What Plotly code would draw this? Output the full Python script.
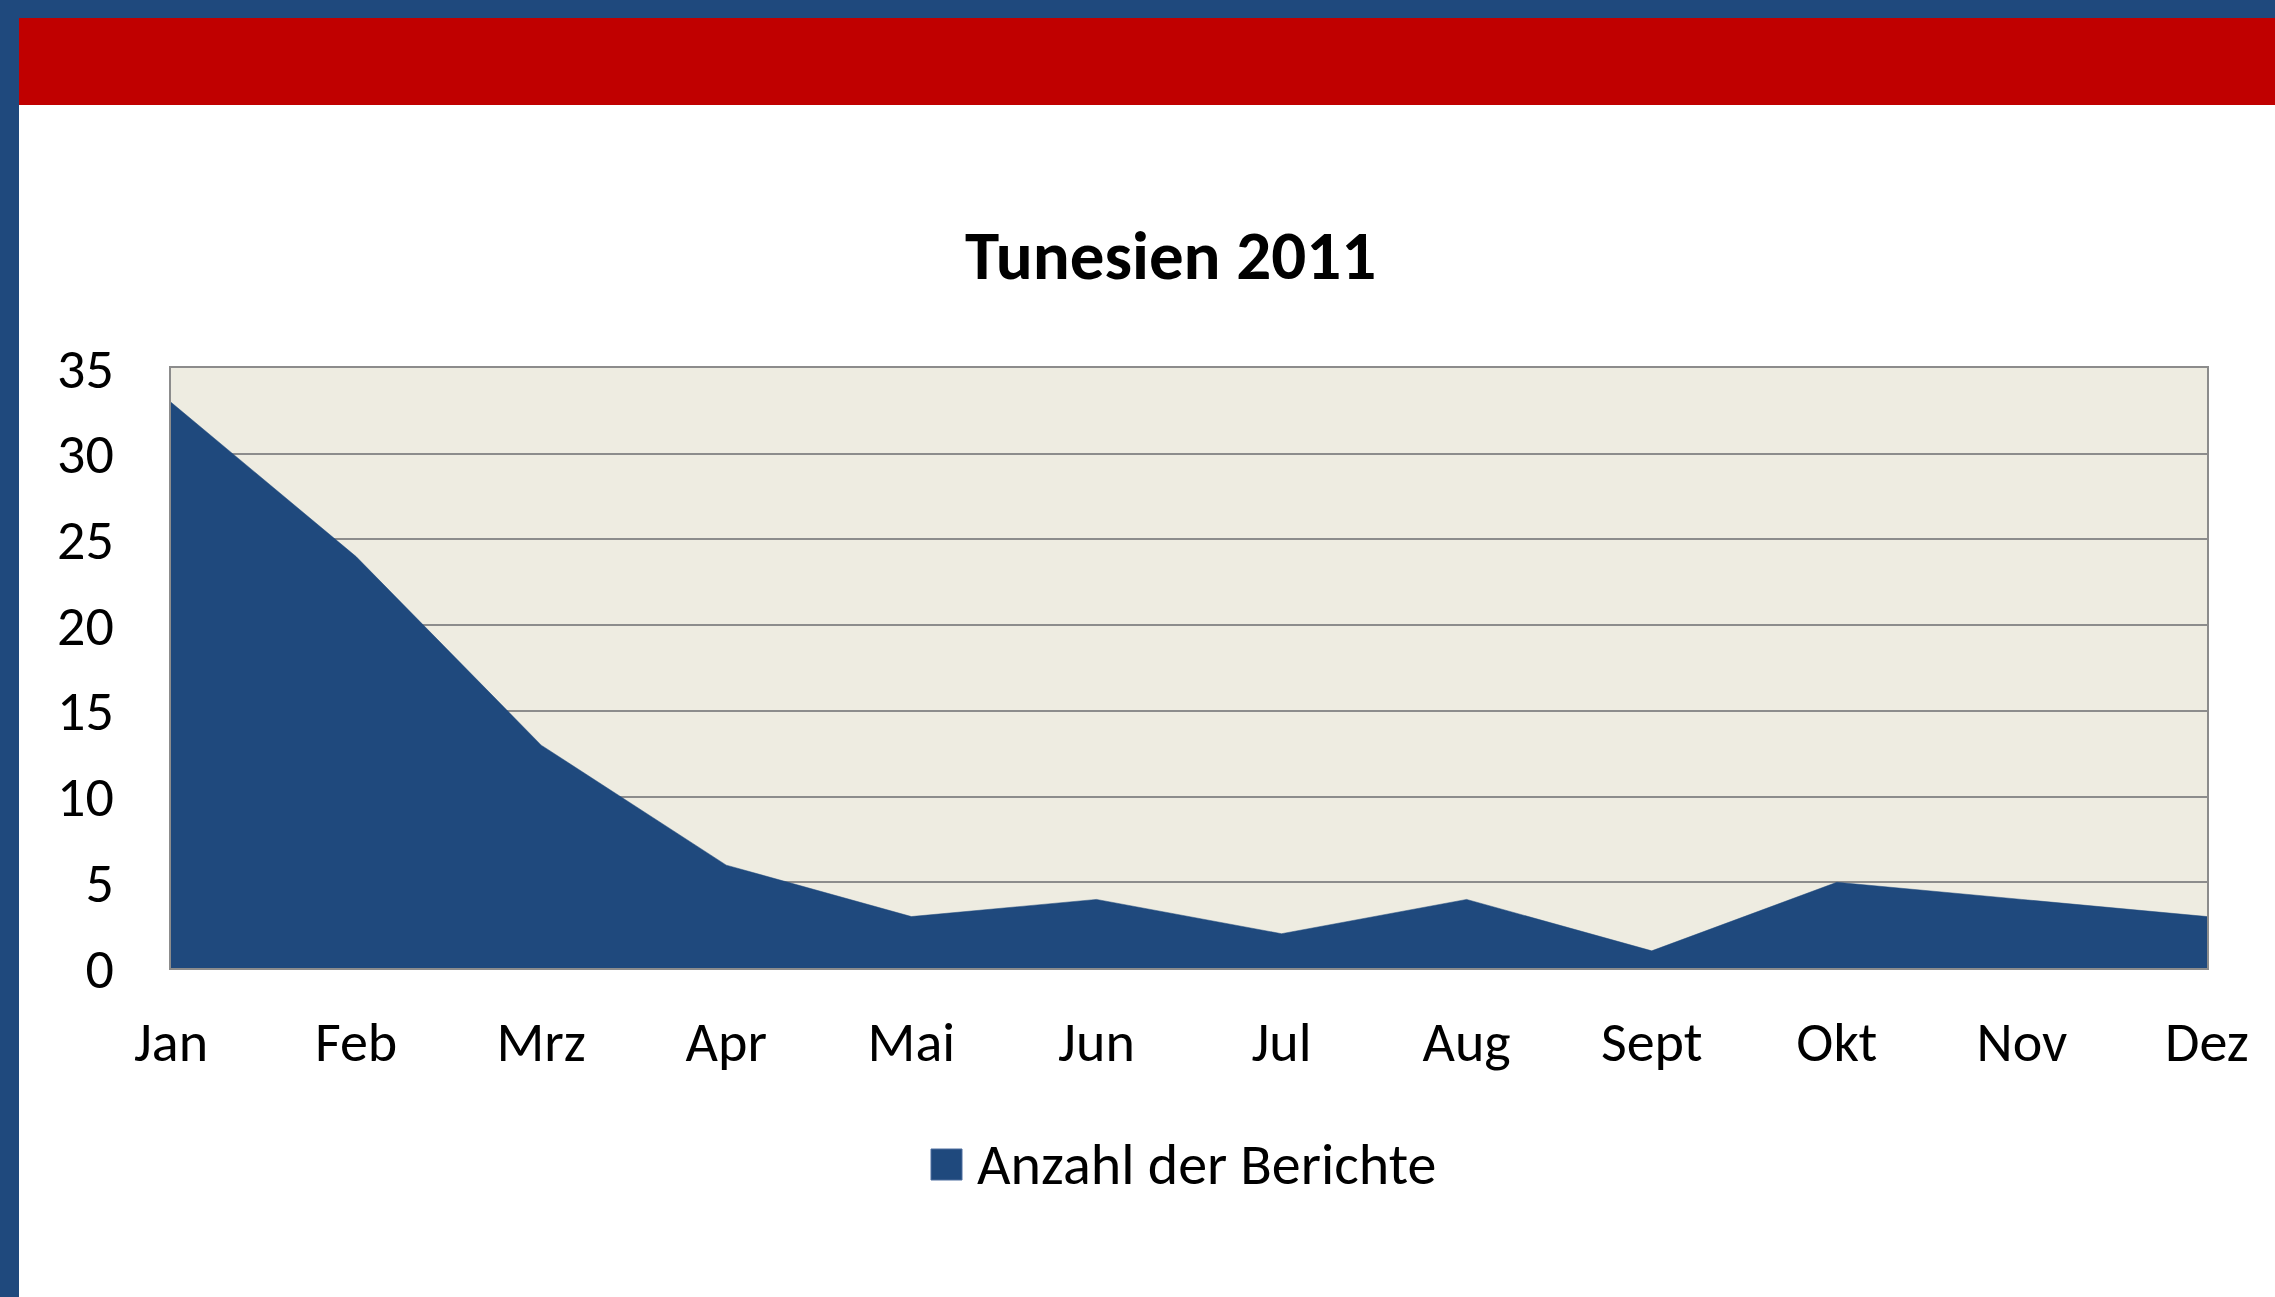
import plotly.graph_objects as go

# ---- data ----
months = ["Jan", "Feb", "Mrz", "Apr", "Mai", "Jun", "Jul", "Aug", "Sept", "Okt", "Nov", "Dez"]
berichte = [33, 24, 13, 6, 3, 4, 2, 4, 1, 5, 4, 3]
series_name = "Anzahl der Berichte"
title_text = "Tunesien 2011"
y_ticks = [0, 5, 10, 15, 20, 25, 30, 35]

# ---- layout geometry (pixels) ----
W, H = 2275, 1297
PL, PR, PT, PB = 171, 2207, 368, 968
PW, PH = PR - PL, PB - PT

def px(x):
    return (x - PL) / PW

def py(y):
    return (PB - y) / PH

BLUE = "#1F497D"
RED = "#C00000"
FONT = "Calibri, Carlito, Lato, sans-serif"

fig = go.Figure()
fig.add_trace(go.Scatter(
    x=list(range(len(months))), y=berichte,
    mode="lines", fill="tozeroy",
    line=dict(color=BLUE, width=0.5),
    fillcolor=BLUE, name=series_name, showlegend=False,
    hoverinfo="x+y",
))

shapes = [
    # left blue bar
    dict(type="rect", xref="paper", yref="paper", x0=px(0), x1=px(19), y0=py(0), y1=py(H),
         fillcolor=BLUE, line=dict(width=0), layer="above"),
    # top blue strip
    dict(type="rect", xref="paper", yref="paper", x0=px(0), x1=px(W), y0=py(0), y1=py(18),
         fillcolor=BLUE, line=dict(width=0), layer="above"),
    # red banner
    dict(type="rect", xref="paper", yref="paper", x0=px(19), x1=px(W), y0=py(18), y1=py(105),
         fillcolor=RED, line=dict(width=0), layer="above"),
    # legend swatch
    dict(type="rect", xref="paper", yref="paper", x0=px(931), x1=px(962), y0=py(1149), y1=py(1180),
         fillcolor=BLUE, line=dict(width=1, color="#4F6F9F"), layer="above"),
]

annotations = [
    dict(text="<b>" + title_text + "</b>", xref="paper", yref="paper",
         x=px(1170), y=py(255), xanchor="center", yanchor="middle", showarrow=False,
         font=dict(family=FONT, size=69, color="black")),
    dict(text=series_name, xref="paper", yref="paper",
         x=px(975), y=py(1164), xanchor="left", yanchor="middle", showarrow=False,
         font=dict(family=FONT, size=58, color="black")),
]

fig.update_layout(
    width=W, height=H,
    margin=dict(l=PL, r=W - PR, t=PT, b=H - PB, pad=0),
    paper_bgcolor="white",
    plot_bgcolor="#EEECE1",
    showlegend=False,
    shapes=shapes,
    annotations=annotations,
    font=dict(family=FONT, size=56, color="black"),
)

fig.update_xaxes(
    range=[0, len(months) - 1],
    tickmode="array", tickvals=list(range(len(months))), ticktext=months,
    showgrid=False, zeroline=False,
    showline=True, mirror=True, linecolor="#8C8C8C", linewidth=2,
    ticks="outside", ticklen=24, tickcolor="rgba(0,0,0,0)",
    tickfont=dict(family=FONT, size=56, color="black"),
)
fig.update_yaxes(
    range=[0, 35],
    tickmode="array", tickvals=y_ticks,
    showgrid=True, gridcolor="#8C8C8C", gridwidth=2,
    zeroline=False,
    showline=True, mirror=True, linecolor="#8C8C8C", linewidth=2,
    ticks="outside", ticklen=44, tickcolor="rgba(0,0,0,0)",
    tickfont=dict(family=FONT, size=56, color="black"),
)

fig.write_html("out.html", config={"displayModeBar": False},
               post_script="document.body.style.margin='0px';")
